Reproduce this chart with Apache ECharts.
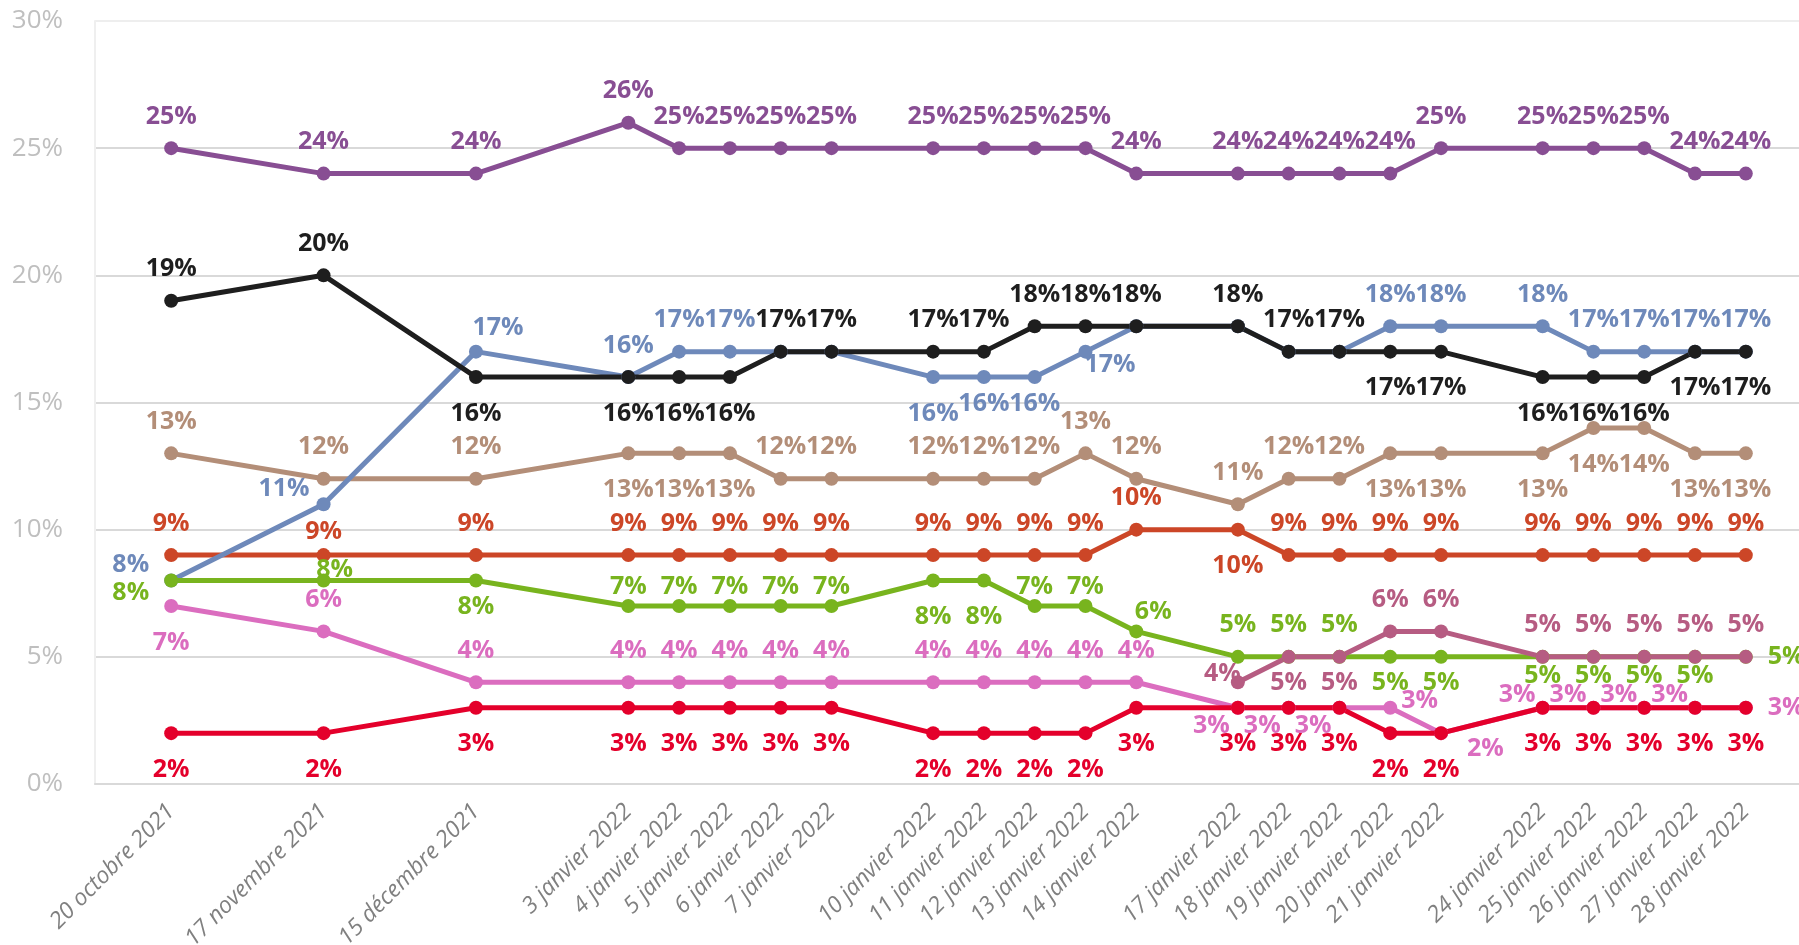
<!DOCTYPE html>
<html>
<head>
<meta charset="utf-8">
<script src="https://cdn.jsdelivr.net/npm/echarts@6/dist/echarts.min.js"></script>
<style>
    html, body { margin: 0; padding: 0; background: #fff; }
    #chart { width: 1799px; height: 945px; }
</style>
</head>
<body>
<div id="chart"></div>
<script>
    // catégories (les cases vides gardent les écarts de l'axe)
    var categories = ['', '20 octobre 2021', '', '', '17 novembre 2021', '', '', '15 décembre 2021', '', '',
        '3 janvier 2022', '4 janvier 2022', '5 janvier 2022', '6 janvier 2022', '7 janvier 2022', '',
        '10 janvier 2022', '11 janvier 2022', '12 janvier 2022', '13 janvier 2022', '14 janvier 2022', '',
        '17 janvier 2022', '18 janvier 2022', '19 janvier 2022', '20 janvier 2022', '21 janvier 2022', '',
        '24 janvier 2022', '25 janvier 2022', '26 janvier 2022', '27 janvier 2022', '28 janvier 2022', ''];

    var yTicks = [0, 5, 10, 15, 20, 25, 30];

    // une valeur par date (23 dates)
    var violet = [25, 24, 24, 26, 25, 25, 25, 25, 25, 25, 25, 25, 24, 24, 24, 24, 24, 25, 25, 25, 25, 24, 24];
    var noir   = [19, 20, 16, 16, 16, 16, 17, 17, 17, 17, 18, 18, 18, 18, 17, 17, 17, 17, 16, 16, 16, 17, 17];
    var bleu   = [8, 11, 17, 16, 17, 17, 17, 17, 16, 16, 16, 17, 18, 18, 17, 17, 18, 18, 18, 17, 17, 17, 17];
    var beige  = [13, 12, 12, 13, 13, 13, 12, 12, 12, 12, 12, 13, 12, 11, 12, 12, 13, 13, 13, 14, 14, 13, 13];
    var orange = [9, 9, 9, 9, 9, 9, 9, 9, 9, 9, 9, 9, 10, 10, 9, 9, 9, 9, 9, 9, 9, 9, 9];
    var vert   = [8, 8, 8, 7, 7, 7, 7, 7, 8, 8, 7, 7, 6, 5, 5, 5, 5, 5, 5, 5, 5, 5, 5];
    var rose   = [7, 6, 4, 4, 4, 4, 4, 4, 4, 4, 4, 4, 4, 3, 3, 3, 3, 2, 3, 3, 3, 3, 3];
    var rouge  = [2, 2, 3, 3, 3, 3, 3, 3, 2, 2, 2, 2, 3, 3, 3, 3, 2, 2, 3, 3, 3, 3, 3];
    var mauve  = [null, null, null, null, null, null, null, null, null, null, null, null, null, 4, 5, 5, 6, 6, 5, 5, 5, 5, 5];

    // placement des étiquettes
    var placeViolet = ['t','t','t','t','t','t','t','t','t','t','t','t','t','t','t','t','t','t','t','t','t','t','t'];
    var placeNoir   = ['t','t','b','b','b','b','t','t','t','t','t','t','t','t','t','t','b','b','b','b','b','b','b'];
    var placeBleu   = ['lu','l11','t15','t','t','t','-','-','b','bc','bc','b13','-','-','-','-','t','t','t','t','t','t','t'];
    var placeBeige  = ['t','t','t','b','b','b','t','t','t','t','t','t','t','t','t','t','b','b','b','b','b','b','b'];
    var placeOrange = ['t','t9','t','t','t','t','t','t','t','t','t','t','t','b','t','t','t','t','t','t','t','t','t'];
    var placeVert   = ['ld','t8','bc','tc','tc','tc','tc','tc','b','b','tc','tc','t6','t','t','t','bc','bc','bcc','bcc','bcc','bcc','r'];
    var placeRose   = ['b','t','t','t','t','t','t','t','t','t','t','t','t','lb','lb','lb','ra','rb','la','la','la','la','r'];
    var placeRouge  = ['b','b','b','b','b','b','b','b','b','b','b','b','b','b','b','b','b','b','b','b','b','b','b'];
    var placeMauve  = ['-','-','-','-','-','-','-','-','-','-','-','-','-','lm','bc','bc','t','t','t','t','t','t','t'];

    var places = {
        t:   {position: 'top'},
        b:   {position: 'bottom'},
        l:   {position: 'left'},
        r:   {position: 'right'},
        lu:  {position: 'left', offset: [0, -16]},
        ld:  {position: 'left', offset: [0, 12]},
        l11: {position: 'left', offset: [8, -15]},
        t15: {position: 'top', offset: [22, 8]},
        bc:  {position: 'bottom', offset: [0, -10]},
        bcc: {position: 'bottom', offset: [0, -17]},
        b13: {position: 'right', offset: [-23, 13]},
        t9:  {position: 'top', offset: [0, 8]},
        t8:  {position: 'top', offset: [11, 21]},
        tc:  {position: 'top', offset: [0, 12]},
        t6:  {position: 'top', offset: [17, 12]},
        lb:  {position: 'left', offset: [14, 18]},
        ra:  {position: 'right', offset: [-11, -7]},
        rb:  {position: 'right', offset: [4, 16]},
        la:  {position: 'left', offset: [15, -13]},
        lm:  {position: 'left', offset: [25, -8]}
    };
    // écart au point selon le côté
    var gaps = {top: 12, bottom: 17, left: 15, right: 15};

    // répartit les valeurs sur les cases non vides
    function spread(values, place) {
        var out = [], k = 0;
        categories.forEach(function (c) {
            if (c === '') { out.push(null); return; }
            var v = values[k], p = place[k];
            k++;
            if (v === null) { out.push(null); return; }
            var item = {value: v};
            if (p === '-') {
                item.label = {show: false};
            } else {
                var pl = places[p];
                item.label = {position: pl.position, offset: pl.offset || [0, 0], distance: gaps[pl.position]};
            }
            out.push(item);
        });
        return out;
    }

    function makeSeries(name, values, place, color) {
        return {
            name: name,
            type: 'line',
            data: spread(values, place),
            connectNulls: true,
            symbol: 'circle',
            symbolSize: 14,
            lineStyle: {color: color, width: 5},
            itemStyle: {color: color},
            label: {
                show: true,
                color: color,
                fontFamily: 'Open Sans',
                fontWeight: 'bold',
                fontSize: 25,
                formatter: '{c}%'
            },
            emphasis: {disabled: true},
            animation: false
        };
    }

    var chart = echarts.init(document.getElementById('chart'));
    chart.setOption({
        backgroundColor: '#fff',
        animation: false,
        grid: {left: 95, top: 21, width: 1727, height: 763, outerBoundsMode: 'none', containLabel: false},
        xAxis: {
            type: 'category',
            data: categories,
            boundaryGap: true,
            axisLine: {show: true, lineStyle: {color: '#D9D9D9', width: 2}},
            axisTick: {show: false},
            axisLabel: {
                interval: 0,
                rotate: 45,
                margin: 24,
                color: '#808080',
                fontFamily: 'Open Sans',
                fontStyle: 'italic',
                fontSize: 23
            }
        },
        yAxis: {
            type: 'value',
            min: yTicks[0],
            max: yTicks[yTicks.length - 1],
            interval: 5,
            axisLine: {show: true, lineStyle: {color: '#EFEFEF', width: 2}},
            axisTick: {show: false},
            splitLine: {lineStyle: {color: ['#D9D9D9', '#D9D9D9', '#D9D9D9', '#D9D9D9', '#D9D9D9', '#D9D9D9', '#EEEEEE'], width: 2}},
            axisLabel: {
                margin: 32,
                color: '#BFBFBF',
                fontFamily: 'Open Sans',
                fontSize: 26,
                formatter: '{value}%'
            }
        },
        series: [
            makeSeries('violet', violet, placeViolet, '#884E93'),
            makeSeries('beige', beige, placeBeige, '#B38E78'),
            makeSeries('orange', orange, placeOrange, '#CC4627'),
            makeSeries('bleu', bleu, placeBleu, '#6E89BA'),
            makeSeries('vert', vert, placeVert, '#78B41E'),
            makeSeries('rose', rose, placeRose, '#DB6DBF'),
            makeSeries('rouge', rouge, placeRouge, '#E4002B'),
            makeSeries('noir', noir, placeNoir, '#1E1E1E'),
            makeSeries('mauve', mauve, placeMauve, '#B65C82')
        ]
    });
</script>
</body>
</html>
